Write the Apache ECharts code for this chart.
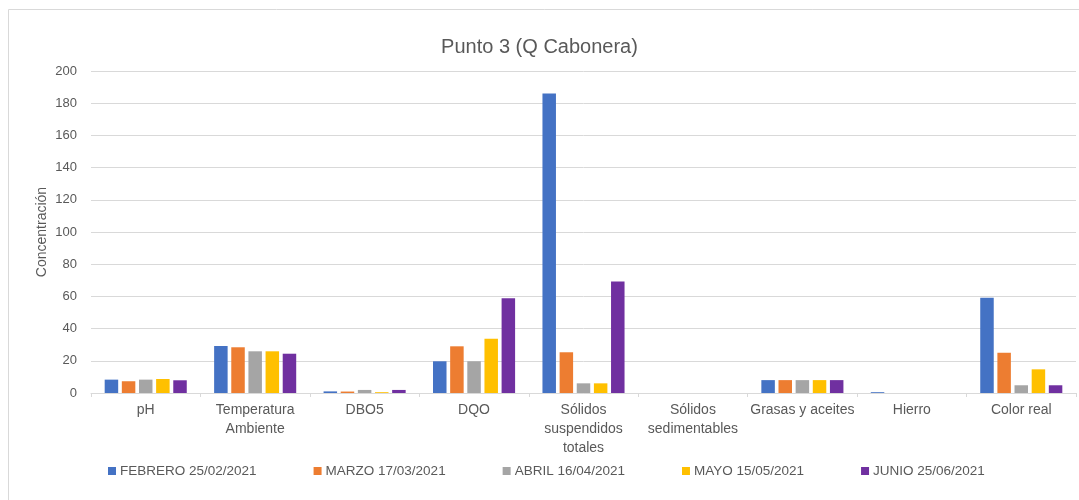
<!DOCTYPE html>
<html>
<head>
<meta charset="utf-8">
<script src="https://cdn.jsdelivr.net/npm/echarts@6/dist/echarts.min.js"></script>
<style>
  html, body { margin: 0; padding: 0; background: #fff; }
  #chart { width: 1079px; height: 500px; }
</style>
</head>
<body>
<div id="chart"></div>
<script>
// categorias (parametros)
var categories = ['pH', 'Temperatura\nAmbiente', 'DBO5', 'DQO', 'Sólidos\nsuspendidos\ntotales',
                  'Sólidos\nsedimentables', 'Grasas y aceites', 'Hierro', 'Color real'];

var seriesNames = ['FEBRERO 25/02/2021', 'MARZO 17/03/2021', 'ABRIL 16/04/2021', 'MAYO 15/05/2021', 'JUNIO 25/06/2021'];
var seriesColors = ['#4472c4', '#ed7d31', '#a5a5a5', '#ffc000', '#7030a0'];

// valores
var febrero = [8.3, 29.2, 1.0, 19.7, 186, 0, 8, 0.5, 59.2];
var marzo   = [7.3, 28.4, 0.9, 29.0, 25.3, 0, 8, 0, 25.0];
var abril   = [8.3, 25.9, 1.9, 19.7, 6.0, 0, 8, 0, 4.8];
var mayo    = [8.7, 25.9, 0.5, 33.7, 6.0, 0, 8, 0, 14.7];
var junio   = [7.9, 24.4, 1.9, 58.8, 69.2, 0, 8, 0, 4.8];

var yTicks = [0, 20, 40, 60, 80, 100, 120, 140, 160, 180, 200];

var allData = [febrero, marzo, abril, mayo, junio];
var txt = '#595959';
var font = 'Liberation Sans';

var chart = echarts.init(document.getElementById('chart'));
chart.setOption({
    animation: false,
    title: {
        text: 'Punto 3 (Q Cabonera)',
        left: 'center',
        top: 32,
        textStyle: { color: txt, fontSize: 20, fontWeight: 'normal', fontFamily: font }
    },
    legend: {
        bottom: 17,
        left: 103,
        itemWidth: 8,
        itemHeight: 8,
        itemGap: 57,
        icon: 'rect',
        textStyle: { color: txt, fontSize: 13.5, fontFamily: font, padding: [0, 0, 0, -1] },
        data: seriesNames
    },
    graphic: [{
        type: 'rect',
        shape: { x: 8.5, y: 9.5, width: 1100, height: 600 },
        style: { fill: 'none', stroke: '#d9d9d9', lineWidth: 1 },
        silent: true
    }, {
        // titulo del eje Y
        type: 'text',
        x: 42,
        y: 232,
        rotation: Math.PI / 2,
        style: {
            text: 'Concentración',
            fill: txt,
            font: '14px "Liberation Sans"',
            align: 'center',
            verticalAlign: 'middle'
        },
        silent: true
    }],
    grid: { left: 91, right: 3, top: 71, bottom: 107 },
    xAxis: {
        type: 'category',
        data: categories,
        axisLine: { lineStyle: { color: '#d9d9d9' } },
        axisTick: { show: true, length: 4, lineStyle: { color: '#d9d9d9' } },
        axisLabel: { color: txt, fontSize: 14, fontFamily: font, margin: 8, lineHeight: 19, interval: 0 }
    },
    yAxis: {
        type: 'value',
        min: yTicks[0],
        max: yTicks[yTicks.length - 1],
        interval: 20,
        axisLine: { show: false },
        axisTick: { show: false },
        axisLabel: { color: txt, fontSize: 13, fontFamily: font, margin: 14 },
        splitLine: { lineStyle: { color: '#d9d9d9' } }
    },
    series: seriesNames.map(function (n, i) {
        return {
            name: n,
            type: 'bar',
            data: allData[i],
            barGap: '27%',
            barCategoryGap: '25%',
            itemStyle: { color: seriesColors[i] }
        };
    })
});
</script>
</body>
</html>
